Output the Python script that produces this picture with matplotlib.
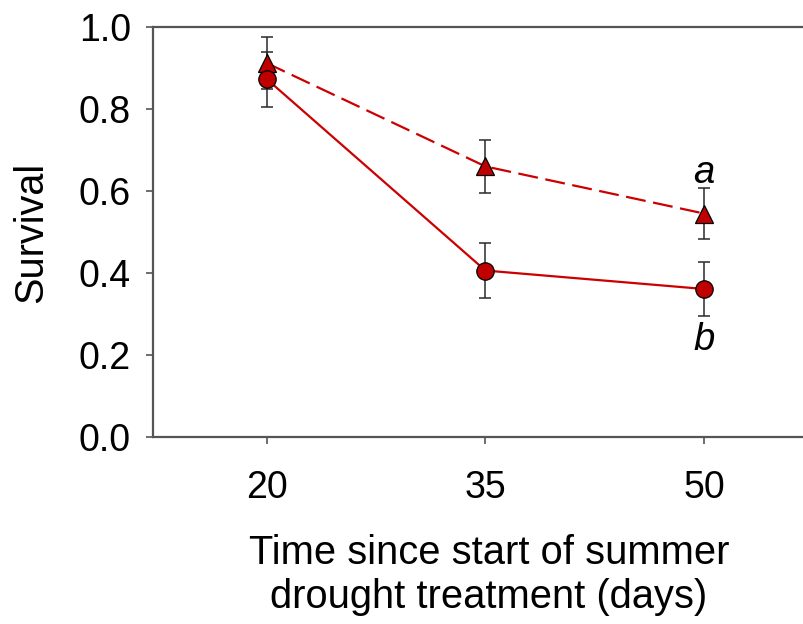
import matplotlib
matplotlib.use("Agg")
import matplotlib.pyplot as plt

plt.rcParams["font.family"] = ["Liberation Sans", "DejaVu Sans"]

days = [20, 35, 50]
# circles, solid line
surv_circle = [0.873, 0.406, 0.361]
err_circle = [0.067, 0.067, 0.067]
# triangles, dashed line
surv_tri = [0.912, 0.660, 0.545]
err_tri = [0.063, 0.064, 0.063]
letters = ["a", "b"]
letter_y = [0.620, 0.211]

red_line = "#CC0000"
red_fill = "#C00000"
spine_col = "#555555"

fig = plt.figure(figsize=(8.04, 6.24), dpi=100)
ax = fig.add_axes([0.1903, 0.2997, 0.8097, 0.657])

ax.errorbar(days, surv_tri, yerr=err_tri, fmt="none", ecolor="#2a2a2a",
            elinewidth=1.1, capsize=4.5, capthick=1.1, zorder=2)
ax.errorbar(days, surv_circle, yerr=err_circle, fmt="none", ecolor="#2a2a2a",
            elinewidth=1.1, capsize=4.5, capthick=1.1, zorder=2)

ax.plot(days, surv_tri, color=red_line, lw=1.6, dashes=(9, 3.4), zorder=3)
ax.plot(days, surv_circle, color=red_line, lw=1.6, zorder=3)
ax.plot(days, surv_tri, ls="none", marker="^", ms=12.5, mfc=red_fill,
        mec="black", mew=0.9, zorder=4)
ax.plot(days, surv_circle, ls="none", marker="o", ms=12.5, mfc=red_fill,
        mec="black", mew=0.9, zorder=4)

for lab, yy in zip(letters, letter_y):
    ax.text(days[-1], yy, lab, ha="center", va="baseline", fontsize=27.5,
            style="italic")

ax.set_xlim(12.2, 56.85)
ax.set_ylim(0, 1.0)
ax.set_xticks(days)
ax.set_yticks([0.0, 0.2, 0.4, 0.6, 0.8, 1.0])
ax.set_yticklabels(["0.0", "0.2", "0.4", "0.6", "0.8", "1.0"])

ax.spines["right"].set_visible(False)
for side in ["left", "top", "bottom"]:
    ax.spines[side].set_color(spine_col)
    ax.spines[side].set_linewidth(1.6)

ax.tick_params(axis="both", direction="out", length=5, width=1.2,
               color=spine_col, labelsize=27)
ax.tick_params(axis="y", pad=11)
ax.tick_params(axis="x", pad=19)

ax.set_ylabel("Survival", fontsize=28.5)
ax.yaxis.set_label_coords(-0.158, 0.5)
ax.set_xlabel("Time since start of summer\ndrought treatment (days)",
              fontsize=28.7, linespacing=1.2)
ax.xaxis.set_label_coords(0.516, -0.236)

fig.savefig("out.png", dpi=100)
